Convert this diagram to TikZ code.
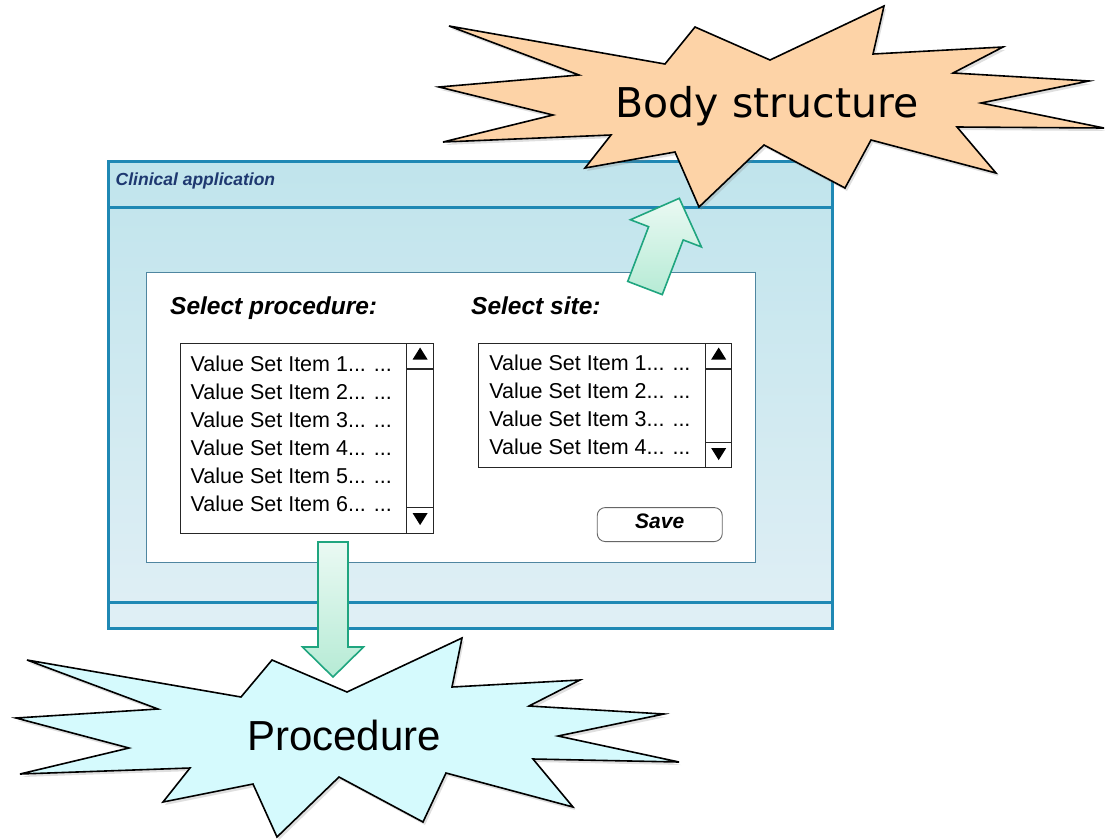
\documentclass[tikz,border=0pt]{standalone}
\usepackage{fontspec}
\setmainfont{Liberation Sans}
\newfontfamily\burstfont{DejaVu Sans}
\usepackage{tikz}
\usetikzlibrary{positioning,calc,shadows}
\usepackage{xcolor}

\definecolor{winborder}{HTML}{1F88B4}
\definecolor{wintop}{HTML}{C0E4EC}
\definecolor{winbottom}{HTML}{E0EFF5}
\definecolor{titleblue}{HTML}{1E3870}
\definecolor{panelborder}{HTML}{4F86A0}
\definecolor{peach}{HTML}{FDD3A7}
\definecolor{paleaqua}{HTML}{D5FAFD}
\definecolor{arrowline}{HTML}{1FA57F}
\definecolor{arrowtop}{HTML}{EAF9F3}
\definecolor{arrowbottom}{HTML}{B6EBD5}

\begin{document}
\begin{tikzpicture}[
    x=1pt, y=-1pt,
    window/.style={rectangle, draw=winborder, line width=3pt, top color=wintop, bottom color=winbottom, anchor=north west, inner sep=0pt},
    bar/.style={draw=winborder, line width=3pt},
    panel/.style={rectangle, draw=panelborder, line width=0.9pt, fill=white, anchor=north west, inner sep=0pt},
    listbox/.style={rectangle, draw=black!85, line width=1.1pt, fill=white, anchor=north west, inner sep=0pt},
    scroll/.style={draw=black!85, line width=1.1pt},
    apptitle/.style={anchor=base west, inner sep=0pt, text=titleblue, font=\fontsize{17.5}{20}\selectfont\bfseries\itshape},
    fieldlabel/.style={anchor=base west, inner sep=0pt, font=\fontsize{24.5}{28}\selectfont\bfseries\itshape},
    item/.style={anchor=base west, inner sep=0pt, font=\fontsize{21.5}{24}\selectfont},
    button/.style={rectangle, rounded corners=8pt, draw=black!60, line width=0.9pt, fill=white, minimum width=125pt, minimum height=34pt, inner sep=0pt, text height=15pt, text depth=7.6pt, font=\fontsize{21}{24}\selectfont\bfseries\itshape},
    burst/.style={draw=black, line width=1.6pt, line join=miter, drop shadow={opacity=0.25, shadow xshift=2pt, shadow yshift=-3pt}},
    blockarrow/.style={draw=arrowline, line width=1.6pt, line join=miter, top color=arrowtop, bottom color=arrowbottom}
]
\useasboundingbox (0,0) rectangle (1105,839);

% application window
\node[window, minimum width=724pt, minimum height=467pt] (app) at (107,160) {};
\draw[bar] ([yshift=-47pt]app.north west) -- ([yshift=-47pt]app.north east);
\draw[bar] ([yshift=28pt]app.south west) -- ([yshift=28pt]app.south east);
\node[apptitle] (appTitle) at (115.5,185) {Clinical application};

% form
\node[panel, minimum width=609pt, minimum height=290pt] (form) at (146,272) {};
\node[fieldlabel] (procLabel) at (170,314) {Select procedure:};
\node[fieldlabel] (siteLabel) at (471,314) {Select site:};

% procedure list
\node[listbox, minimum width=253pt, minimum height=190pt] (procList) at (179.5,343) {};
\draw[scroll] ([xshift=-27pt]procList.north east) -- ([xshift=-27pt]procList.south east);
\draw[scroll] ([xshift=-27pt,yshift=-26pt]procList.north east) -- ([yshift=-26pt]procList.north east);
\draw[scroll] ([xshift=-27pt,yshift=27pt]procList.south east) -- ([yshift=27pt]procList.south east);
\fill ([xshift=-13.5pt,yshift=-4.5pt]procList.north east) -- ++(7.5,12) -- ++(-15,0) -- cycle;
\fill ([xshift=-13.5pt,yshift=9pt]procList.south east) -- ++(7.5,-12) -- ++(-15,0) -- cycle;
\foreach \i in {1,...,6}
    \node[item] (procItem\i) at ($(procList.north west)+(11,{28.7+28*(\i-1)})$) {Value Set Item \i... ...};

% site list
\node[listbox, minimum width=253pt, minimum height=124pt] (siteList) at ([xshift=44.5pt]procList.north east) {};
\draw[scroll] ([xshift=-27pt]siteList.north east) -- ([xshift=-27pt]siteList.south east);
\draw[scroll] ([xshift=-27pt,yshift=-26pt]siteList.north east) -- ([yshift=-26pt]siteList.north east);
\draw[scroll] ([xshift=-27pt,yshift=26pt]siteList.south east) -- ([yshift=26pt]siteList.south east);
\fill ([xshift=-13.5pt,yshift=-4.5pt]siteList.north east) -- ++(7.5,12) -- ++(-15,0) -- cycle;
\fill ([xshift=-13.5pt,yshift=8pt]siteList.south east) -- ++(7.5,-12) -- ++(-15,0) -- cycle;
\foreach \i in {1,...,4}
    \node[item] (siteItem\i) at ($(siteList.north west)+(11,{27+28*(\i-1)})$) {Value Set Item \i... ...};

\node[button, below left=39pt and 9.5pt of siteList.south east] (saveBtn) {Save};

% block arrows
\coordinate (procOut) at (333,542);
\coordinate (procIn) at (333,677);
\coordinate (procNeck) at ($(procIn)!30pt!(procOut)$);
\path[blockarrow] ($(procOut)!15pt!90:(procIn)$) -- ($(procNeck)!15pt!-90:(procOut)$)
    -- ($(procNeck)!30.5pt!-90:(procOut)$) -- (procIn) -- ($(procNeck)!30.5pt!90:(procOut)$)
    -- ($(procNeck)!15pt!90:(procOut)$) -- ($(procOut)!15pt!-90:(procIn)$) -- cycle;

\coordinate (siteOut) at (645,288);
\coordinate (siteIn) at (679.3,198.3);
\coordinate (siteNeck) at ($(siteIn)!37.5pt!(siteOut)$);
\path[blockarrow] ($(siteOut)!18.5pt!90:(siteIn)$) -- ($(siteNeck)!18.5pt!-90:(siteOut)$)
    -- ($(siteNeck)!38pt!-90:(siteOut)$) -- (siteIn) -- ($(siteNeck)!38pt!90:(siteOut)$)
    -- ($(siteNeck)!18.5pt!90:(siteOut)$) -- ($(siteOut)!18.5pt!-90:(siteIn)$) -- cycle;

% body structure burst
\path[burst, fill=peach] (449,26) -- (665,64) -- (695,27) -- (770,60) -- (884,6) -- (873,54)
    -- (1003,47) -- (953,73) -- (1089,81) -- (981,103) -- (1104,128) -- (957,127)
    -- (996,173) -- (871,140) -- (845,188) -- (764,145) -- (699,207) -- (675,152)
    -- (585,168) -- (611,135) -- (443,142) -- (553,115) -- (439,87) -- (579,75) -- cycle;
\node[anchor=base, inner sep=0pt, font=\burstfont\fontsize{41}{46}\selectfont] (bodyStructure) at (767,117) {Body structure};

% procedure burst
\path[burst, fill=paleaqua] (27,660) -- (241,697) -- (272,660) -- (347,692) -- (462,638) -- (452,687)
    -- (580,680) -- (529,706) -- (664,714) -- (558,736) -- (679,762) -- (533,759)
    -- (573,807) -- (446,773) -- (423,822) -- (339,777) -- (277,837) -- (253,784)
    -- (163,802) -- (190,768) -- (20,774) -- (129,748) -- (16,718) -- (158,709) -- cycle;
\node[anchor=base, inner sep=0pt, font=\fontsize{42}{46}\selectfont] (procedure) at (344,750) {Procedure};

\end{tikzpicture}
\end{document}
